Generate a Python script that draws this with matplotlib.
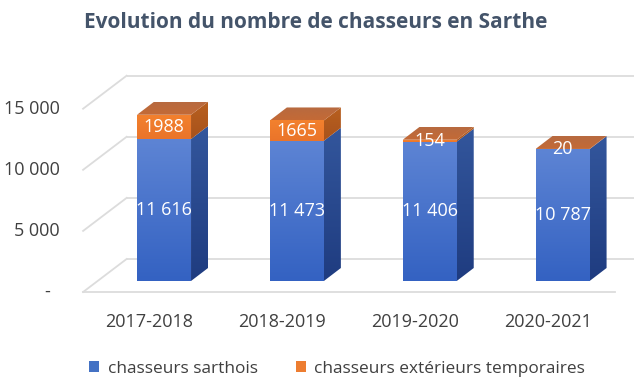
import numpy as np
import matplotlib.pyplot as plt
from matplotlib.patches import Polygon, Patch

# --- données ---
seasons = ["2017-2018", "2018-2019", "2019-2020", "2020-2021"]
sarthois = [11616, 11473, 11406, 10787]
exterieurs = [1988, 1665, 154, 20]
y_ticks = [0, 5000, 10000, 15000]
y_tick_labels = ["-", "5 000", "10 000", "15 000"]
title = "Evolution du nombre de chasseurs en Sarthe"
legend_labels = ["chasseurs sarthois", "chasseurs extérieurs temporaires"]

plt.rcParams['font.family'] = ['Open Sans', 'DejaVu Sans']

W, H = 634, 381
fig = plt.figure(figsize=(W / 100, H / 100), dpi=100)
ax_l, ax_b, ax_w, ax_h = 97.6, 100, 531.4, 195.5
ax = fig.add_axes([ax_l / W, ax_b / H, ax_w / W, ax_h / H])
ax.set_autoscale_on(False)
ax.set_xlim(-0.5, 3.5)
ax.set_ylim(0, 16000)
ax.axis('off')

# pixels -> unités de données (pour l'effet 3D)
sx = ax_w / 4
sy = ax_h / 16000


def off(dx, dy):
    return dx / sx, dy / sy


FRONT = off(-14.5, -11)
BACK = off(29, 22)
DEPTH = off(17, 13)

# --- grille (murs du fond) ---
grid_c = '#dcdcdc'
fx, fy = FRONT
bx, by = BACK
for v in y_ticks:
    ax.plot([-0.5 + bx, 4.3], [v + by, v + by], color=grid_c, lw=1.3,
            clip_on=False, zorder=0, solid_capstyle='butt')
    ax.plot([-0.5 + fx, -0.5 + bx], [v + fy, v + by], color=grid_c, lw=1.3,
            clip_on=False, zorder=0)
ax.plot([-0.5 + fx, 3.5 + fx], [fy, fy], color=grid_c, lw=1.3,
        clip_on=False, zorder=0)


def face(pts, c_top, c_bot, z):
    pts = np.array(pts)
    poly = Polygon(pts, closed=True, facecolor='none', edgecolor='none',
                   zorder=z)
    ax.add_patch(poly)
    grad = np.linspace(0, 1, 64)[:, None, None]
    c1 = np.array(plt.matplotlib.colors.to_rgb(c_top))
    c2 = np.array(plt.matplotlib.colors.to_rgb(c_bot))
    img = c1 * (1 - grad) + c2 * grad
    im = ax.imshow(img, extent=[pts[:, 0].min(), pts[:, 0].max(),
                                pts[:, 1].min(), pts[:, 1].max()],
                   origin='upper', aspect='auto', zorder=z,
                   interpolation='bilinear')
    im.set_clip_path(poly)


w = 54 / sx
dx, dy = DEPTH
for i in range(len(seasons)):
    b = sarthois[i]
    t = b + exterieurs[i]
    x0, x1 = i - w / 2, i + w / 2
    # segment bleu
    face([(x0, 0), (x1, 0), (x1, b), (x0, b)], '#5d84d4', '#3462c2', 2)
    face([(x1, 0), (x1 + dx, dy), (x1 + dx, b + dy), (x1, b)],
         '#33569c', '#1f3c80', 2)
    # segment orange
    face([(x0, b), (x1, b), (x1, t), (x0, t)], '#f3812e', '#ea742a', 3)
    face([(x1, b), (x1 + dx, b + dy), (x1 + dx, t + dy), (x1, t)],
         '#b8601f', '#a8521c', 3)
    # dessus
    face([(x0, t), (x1, t), (x1 + dx, t + dy), (x0 + dx, t + dy)],
         '#b76a40', '#c46a36', 3)
    ax.text(i, b / 2, f"{sarthois[i]:,}".replace(",", " "), color='white',
            ha='center', va='center', fontsize=13, zorder=5)
    ax.text(i, b + exterieurs[i] / 2, str(exterieurs[i]), color='white',
            ha='center', va='center', fontsize=13, zorder=5)

# --- étiquettes des axes ---
text_c = '#404040'
for v, lab in zip(y_ticks, y_tick_labels):
    xx = -0.5 + fx - (33 if lab == "-" else 23) / sx
    ax.text(xx, v + fy, lab, ha='right', va='center', fontsize=13,
            color=text_c, clip_on=False)
for i, s in enumerate(seasons):
    ax.text(i + fx, fy - 30 / sy, s, ha='center', va='center', fontsize=13,
            color=text_c, clip_on=False)

fig.text(316 / W, 1 - 23 / H, title, ha='center', va='center', fontsize=15,
         fontweight='bold', color='#44546a')

handles = [Patch(facecolor='#4472c4'), Patch(facecolor='#ed7d31')]
fig.legend(handles, legend_labels, loc='center', bbox_to_anchor=(337 / W, 12 / H),
           ncol=2, frameon=False, fontsize=12.4, labelcolor=text_c,
           handlelength=0.6, handleheight=0.6, handletextpad=0.5,
           columnspacing=2.2)

fig.savefig('out.png', dpi=100)
